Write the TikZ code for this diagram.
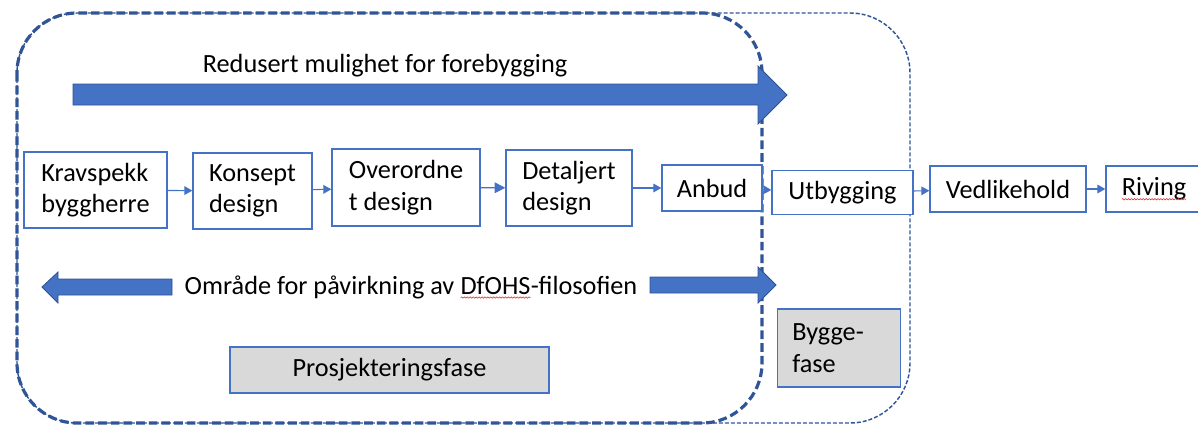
\documentclass[tikz,border=0pt]{standalone}
\usepackage{fontspec}
\setmainfont{Carlito}
\usetikzlibrary{arrows.meta,decorations.pathmorphing}
\definecolor{kantblaa}{HTML}{4472C4}
\definecolor{strekblaa}{HTML}{2F5597}
\definecolor{pilkant}{HTML}{2F528F}
\definecolor{fasegraa}{HTML}{D9D9D9}
\definecolor{stavrod}{HTML}{E02020}
\tikzset{
  fasebox/.style={draw=kantblaa, line width=1pt, fill=white, align=left, inner sep=0pt},
  graboks/.style={fasebox, fill=fasegraa},
  flyt/.style={draw=kantblaa, line width=0.8pt, -{Triangle[length=6pt,width=6.5pt]}},
  tykkpil/.style={fill=kantblaa, draw=pilkant, line width=0.6pt},
  stavefeil/.style={draw=stavrod, line width=0.4pt, decorate,
    decoration={snake,amplitude=0.5pt,segment length=2.2pt}}
}
% ord med rod strek under
\newcommand{\feilord}[1]{\tikz[baseline=(fo.base)]{\node[inner sep=0pt,outer sep=0pt,draw=none,fill=none,minimum size=0pt] (fo) {#1};
  \draw[stavefeil] ([yshift=-2.6pt]fo.base west) -- ([yshift=-2.6pt]fo.base east);}}

\begin{document}
\begin{tikzpicture}[x=0.75pt, y=-0.75pt,
    every node/.style={font=\fontsize{19.7pt}{23.5pt}\selectfont, text=black}]
  \useasboundingbox (0,0) rectangle (1198,425);

  % faseomraadene
  \draw[strekblaa, line width=1.1pt, dash pattern=on 3pt off 1.5pt, rounded corners=45pt]
    (17,13) rectangle (910,423);
  \draw[strekblaa, line width=2.4pt, dash pattern=on 6.5pt off 3pt, rounded corners=45pt]
    (17,13) rectangle (762,423);

  % tykke piler
  \draw[tykkpil] (73,84) -- (758,84) -- (758,66) -- (787,95) -- (758,124) -- (758,105) -- (73,105) -- cycle;
  \draw[tykkpil] (172,279) -- (58,279) -- (58,272) -- (42,287) -- (58,303) -- (58,295) -- (172,295) -- cycle;
  \draw[tykkpil] (650,277) -- (758,277) -- (758,267) -- (776,285) -- (758,303) -- (758,293) -- (650,293) -- cycle;

  \node (redusert) at (385,66) {Redusert mulighet for forebygging};
  \node (omraade) at (411,287) {Område for påvirkning av \feilord{DfOHS}-filosofien};

  % prosessen
  \node[fasebox, minimum width=107.25pt, minimum height=57pt] (krav) at (95.5,190) {Kravspekk\\byggherre};
  \node[fasebox, minimum width=89.25pt, minimum height=57pt] (konsept) at (252.5,191) {Konsept\\design};
  \node[fasebox, minimum width=111pt, minimum height=57.75pt] (overordnet) at (406,187.5) {Overordne\\t design};
  \node[fasebox, minimum width=94.5pt, minimum height=57pt] (detaljert) at (569,188) {Detaljert\\design};
  \node[fasebox, minimum width=75pt, minimum height=34.5pt] (anbud) at (712,188) {Anbud};
  \node[fasebox, minimum width=105.75pt, minimum height=33pt] (utbygging) at (842.5,192.5) {Utbygging};
  \node[fasebox, minimum width=117pt, minimum height=34.5pt] (vedlikehold) at (1008,189) {Vedlikehold};
  \node[fasebox, minimum width=72pt, minimum height=34.5pt] (riving) at (1154,189) {\feilord{Riving}};

  \draw[flyt] (krav) -- (konsept);
  \draw[flyt] (konsept) -- (overordnet);
  \draw[flyt, -{Triangle[length=8pt,width=8pt]}] (overordnet) -- (detaljert);
  \draw[flyt] (detaljert) -- (anbud);
  \draw[flyt] (anbud) -- (utbygging);
  \draw[flyt] (utbygging) -- (vedlikehold);
  \draw[flyt] (vedlikehold) -- (riving);

  % fasene
  \node[graboks, minimum width=239.25pt, minimum height=34.5pt] (prosjektering) at (389.5,370) {Prosjekteringsfase};
  \node[graboks, text width=70pt, inner xsep=11.25pt, minimum height=58.5pt] (byggefase) at (839,348) {Bygge-\\fase};
\end{tikzpicture}
\end{document}
